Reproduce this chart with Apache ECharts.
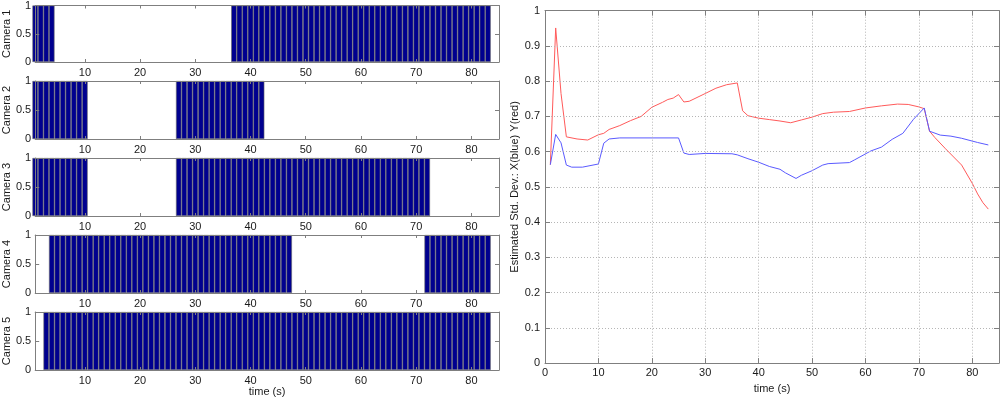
<!DOCTYPE html>
<html><head><meta charset="utf-8">
<script src="https://cdn.jsdelivr.net/npm/echarts@6/dist/echarts.min.js"></script>
<style>html,body{margin:0;padding:0;background:#fff}#c{width:1000px;height:399px}</style>
</head><body><div id="c"></div>
<script>
// ---- data ----
const frameTimes = [1,2,3,4,5,6,7,8,9,10,11,12,13,14,15,16,17,18,19,20,21,22,23,24,25,26,27,28,29,30,
  31,32,33,34,35,36,37,38,39,40,41,42,43,44,45,46,47,48,49,50,51,52,53,54,55,56,57,58,59,60,
  61,62,63,64,65,66,67,68,69,70,71,72,73,74,75,76,77,78,79,80,81,82,83];
const camera1 = [1,1,1,1,0,0,0,0,0,0, 0,0,0,0,0,0,0,0,0,0, 0,0,0,0,0,0,0,0,0,0, 0,0,0,0,0,0,1,1,1,1,
  1,1,1,1,1,1,1,1,1,1, 1,1,1,1,1,1,1,1,1,1, 1,1,1,1,1,1,1,1,1,1, 1,1,1,1,1,1,1,1,1,1, 1,1,1];
const camera2 = [1,1,1,1,1,1,1,1,1,1, 0,0,0,0,0,0,0,0,0,0, 0,0,0,0,0,0,1,1,1,1, 1,1,1,1,1,1,1,1,1,1,
  1,1,0,0,0,0,0,0,0,0, 0,0,0,0,0,0,0,0,0,0, 0,0,0,0,0,0,0,0,0,0, 0,0,0,0,0,0,0,0,0,0, 0,0,0];
const camera3 = [1,1,1,1,1,1,1,1,1,1, 0,0,0,0,0,0,0,0,0,0, 0,0,0,0,0,0,1,1,1,1, 1,1,1,1,1,1,1,1,1,1,
  1,1,1,1,1,1,1,1,1,1, 1,1,1,1,1,1,1,1,1,1, 1,1,1,1,1,1,1,1,1,1, 1,1,0,0,0,0,0,0,0,0, 0,0,0];
const camera4 = [0,0,0,1,1,1,1,1,1,1, 1,1,1,1,1,1,1,1,1,1, 1,1,1,1,1,1,1,1,1,1, 1,1,1,1,1,1,1,1,1,1,
  1,1,1,1,1,1,1,0,0,0, 0,0,0,0,0,0,0,0,0,0, 0,0,0,0,0,0,0,0,0,0, 0,1,1,1,1,1,1,1,1,1, 1,1,1];
const camera5 = [0,0,1,1,1,1,1,1,1,1, 1,1,1,1,1,1,1,1,1,1, 1,1,1,1,1,1,1,1,1,1, 1,1,1,1,1,1,1,1,1,1,
  1,1,1,1,1,1,1,1,1,1, 1,1,1,1,1,1,1,1,1,1, 1,1,1,1,1,1,1,1,1,1, 1,1,1,1,1,1,1,1,1,1, 1,1,1];
const cameraNames = ['Camera 1','Camera 2','Camera 3','Camera 4','Camera 5'];
const leftTicks = [10,20,30,40,50,60,70,80];

// estimated std. dev. [time, value]
const stdX = [[1,0.563],[2,0.649],[3,0.625],[4,0.562],[5,0.556],[7,0.556],[10,0.565],[11,0.624],[12,0.636],
  [14,0.639],[25,0.639],[26,0.596],[27,0.592],[30,0.595],[35,0.594],[36,0.591],[38,0.580],[40,0.570],
  [42,0.558],[44,0.550],[45,0.540],[47,0.524],[48,0.533],[50,0.546],[52,0.562],[53,0.566],[57,0.569],
  [58,0.577],[61,0.602],[63,0.613],[65,0.635],[67,0.652],[69,0.692],[71,0.724],[72,0.658],[74,0.647],
  [76,0.644],[78,0.638],[81,0.626],[83,0.619]];
const stdY = [[1,0.563],[2,0.951],[3,0.765],[4,0.642],[6,0.636],[8,0.633],[10,0.648],[11,0.652],[12,0.663],
  [14,0.674],[16,0.688],[18,0.700],[20,0.726],[22,0.740],[23,0.748],[24,0.752],[25,0.762],[26,0.741],
  [27,0.743],[30,0.765],[32,0.780],[34,0.790],[36,0.795],[37,0.716],[38,0.702],[40,0.695],[42,0.691],
  [44,0.687],[46,0.682],[48,0.690],[50,0.698],[52,0.708],[54,0.712],[57,0.714],[60,0.724],[63,0.730],
  [66,0.735],[68,0.734],[70,0.727],[71,0.722],[72,0.658],[73,0.640],[75,0.608],[78,0.562],[80,0.510],
  [81,0.480],[82,0.455],[83,0.437]];

// ---- chart ----
const cameras = [camera1,camera2,camera3,camera4,camera5];
const FONT = "'Liberation Sans', Arial, sans-serif";
const TXT = '#1a1a1a';
const AX = '#7f7f7f';
const lblStyle = {color: TXT, fontFamily: FONT, fontSize: 11};
const gridTops = [4, 81, 158, 235, 312];
const grids = [], xAxes = [], yAxes = [], series = [];

cameras.forEach((cam, i) => {
  grids.push({left: 33, right: 501, top: gridTops[i], height: 58});
  xAxes.push({type:'value', gridIndex:i, min:1, max:85, position:'bottom', z:5,
    axisLine:{show:true, onZero:false, lineStyle:{color:AX}},
    axisTick:{show:true, inside:true, length:3, customValues:leftTicks, lineStyle:{color:AX}},
    axisLabel:Object.assign({customValues:leftTicks, margin:5}, lblStyle),
    splitLine:{show:false},
    name: i === 4 ? 'time (s)' : '', nameLocation:'middle', nameGap:13, nameTextStyle:lblStyle});
  xAxes.push({type:'value', gridIndex:i, min:1, max:85, position:'top', z:5,
    axisLine:{show:true, onZero:false, lineStyle:{color:AX}},
    axisTick:{show:true, inside:true, length:3, customValues:leftTicks, lineStyle:{color:AX}},
    axisLabel:{show:false}, splitLine:{show:false}});
  yAxes.push({type:'value', gridIndex:i, min:0, max:1, interval:0.5, position:'left', z:5,
    axisLine:{show:true, onZero:false, lineStyle:{color:AX}},
    axisTick:{show:true, inside:true, length:4, lineStyle:{color:AX}},
    axisLabel:Object.assign({margin:4}, lblStyle), splitLine:{show:false},
    name:cameraNames[i], nameLocation:'middle', nameGap:20, nameTextStyle:lblStyle});
  yAxes.push({type:'value', gridIndex:i, min:0, max:1, interval:0.5, position:'right', z:5,
    axisLine:{show:true, onZero:false, lineStyle:{color:AX}},
    axisTick:{show:true, inside:true, length:4, lineStyle:{color:AX}},
    axisLabel:{show:false}, splitLine:{show:false}});
  const data = [];
  frameTimes.forEach((t, k) => { if (cam[k]) data.push([t, cam[k]]); });
  series.push({type:'bar', xAxisIndex:2*i, yAxisIndex:2*i, data, barWidth:'100%', clip:true,
    itemStyle:{color:'#00008f', borderColor:'#6a6a6a', borderWidth:0.6}, silent:true, animation:false});
});

// right chart
grids.push({left:545, right:1, top:10.7, height:357});
const grid5 = {color:'#b5b5b5', type:[1,2], width:1};
xAxes.push({type:'value', gridIndex:5, min:0, max:85, interval:10, position:'bottom', z:5,
  axisLine:{show:true, onZero:false, lineStyle:{color:AX}},
  axisTick:{show:true, inside:true, length:5, lineStyle:{color:AX}},
  axisLabel:Object.assign({margin:4, showMaxLabel:false}, lblStyle),
  splitLine:{show:true, lineStyle:grid5},
  name:'time (s)', nameLocation:'middle', nameGap:16, nameTextStyle:lblStyle});
xAxes.push({type:'value', gridIndex:5, min:0, max:85, interval:10, position:'top', z:5,
  axisLine:{show:true, onZero:false, lineStyle:{color:AX}},
  axisTick:{show:true, inside:true, length:5, lineStyle:{color:AX}},
  axisLabel:{show:false}, splitLine:{show:false}});
yAxes.push({type:'value', gridIndex:5, min:0, max:1, interval:0.1, position:'left', z:5,
  axisLine:{show:true, onZero:false, lineStyle:{color:AX}},
  axisTick:{show:true, inside:true, length:5, lineStyle:{color:AX}},
  axisLabel:Object.assign({margin:5}, lblStyle),
  splitLine:{show:true, lineStyle:grid5},
  name:'Estimated Std. Dev.: X(blue) Y(red)', nameLocation:'middle', nameGap:21, nameTextStyle:lblStyle});
yAxes.push({type:'value', gridIndex:5, min:0, max:1, interval:0.1, position:'right', z:5,
  axisLine:{show:true, onZero:false, lineStyle:{color:AX}},
  axisTick:{show:true, inside:true, length:5, lineStyle:{color:AX}},
  axisLabel:{show:false}, splitLine:{show:false}});
series.push({type:'line', xAxisIndex:10, yAxisIndex:10, data:stdY, showSymbol:false, symbol:'none',
  lineStyle:{color:'#ff5a5a', width:1}, animation:false, silent:true});
series.push({type:'line', xAxisIndex:10, yAxisIndex:10, data:stdX, showSymbol:false, symbol:'none',
  lineStyle:{color:'#5a5aff', width:1}, animation:false, silent:true});

const chart = echarts.init(document.getElementById('c'), null, {renderer:'canvas'});
chart.setOption({backgroundColor:'#fff', animation:false, grid:grids, xAxis:xAxes, yAxis:yAxes, series});
</script></body></html>
